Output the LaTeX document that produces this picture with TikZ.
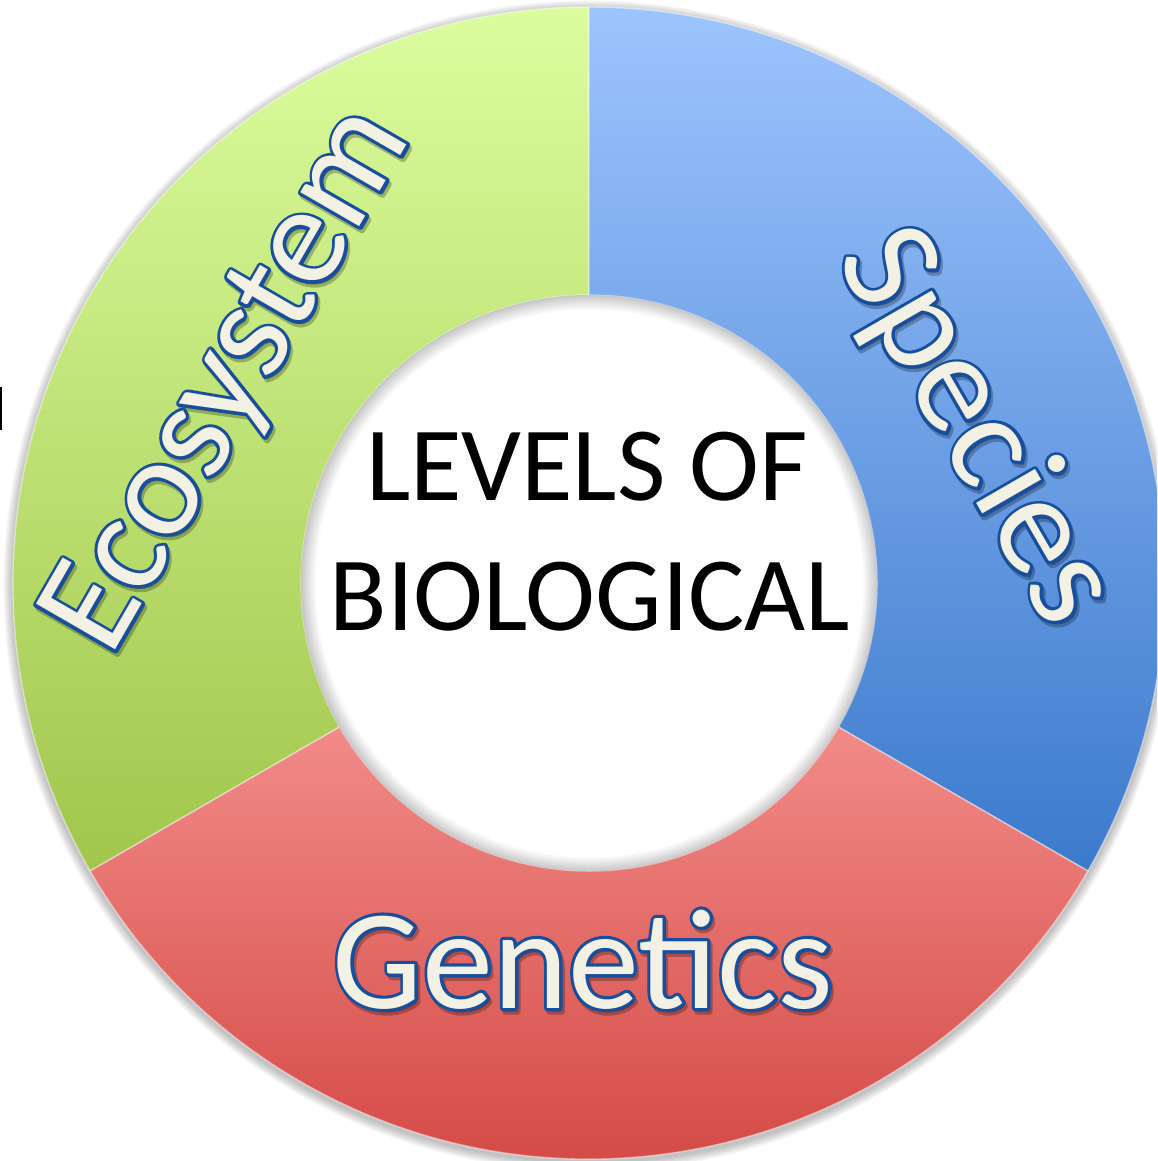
\documentclass[tikz,border=0pt]{standalone}
\usepackage{fontspec}
\setmainfont{Carlito}
\usetikzlibrary{calc}

\definecolor{greentop}{HTML}{DCFD9E}
\definecolor{greenbot}{HTML}{A1C64C}
\definecolor{bluetop}{HTML}{9DC4FD}
\definecolor{bluebot}{HTML}{3C7ACC}
\definecolor{redtop}{HTML}{FBA09D}
\definecolor{redmid}{HTML}{EF8583}
\definecolor{redbot}{HTML}{CF3F3B}
\definecolor{wordcream}{HTML}{F3F0E4}
\definecolor{wordblue}{HTML}{174F9C}

% white centre with a soft rim where the ring shades it
\pgfdeclareradialshading{holeshade}{\pgfpoint{0bp}{0bp}}{%
  color(0bp)=(white); color(23.7bp)=(white); color(25bp)=(black!22); color(50bp)=(black!22)}

\def\Rout{5.76}
\def\Rin{2.88}

% stroked glyphs: filled and outlined in the current colour
\newcommand\fatglyphs[1]{%
  \special{pdf:literal direct 1.8 w 1 j 2 Tr}#1\special{pdf:literal direct 0 Tr}}

% word with a faint offset shadow, dark blue rim and cream face
% #1 shadow shift along the line, #2 shadow raise, #3 the word
\newcommand\rimword[3]{%
  \rlap{\begin{pgfscope}\pgfsetfillopacity{0.25}\pgfsetstrokeopacity{0.25}\color{black}%
    \kern#1\raisebox{#2}{\fatglyphs{#3}}\end{pgfscope}}%
  \rlap{\color{wordblue}\fatglyphs{#3}}%
  #3}

\begin{document}
\begin{tikzpicture}[
  wordfill/.style={font=\fontsize{40.5}{48}\selectfont, inner sep=0pt, anchor=base, text=wordcream},
  title/.style={font=\fontsize{30}{36}\selectfont, inner sep=0pt, anchor=base, text=black},
  segment/.style={shading=axis, draw=white, draw opacity=0.45, line width=0.4pt},
]
\useasboundingbox (0,0) rectangle (11.57,-11.61);
\clip (0,0) rectangle (11.57,-11.61);
\fill[white] (0,0) rectangle (11.57,-11.61);

\coordinate (ctr) at (5.89,-5.83);

% soft drop shadow under the ring
\foreach \k in {1,...,8}
  \fill[black, opacity=0.03] ($(ctr)+(0,-0.03)$) circle ({\Rout+0.012*\k});

% Ecosystem segment (210 to 90 degrees)
\path[segment, top color=greentop, bottom color=greenbot]
  (ctr) ++(210:\Rout) arc[start angle=210, end angle=90, radius=\Rout]
  -- ++(270:\Rout-\Rin) arc[start angle=90, end angle=210, radius=\Rin] -- cycle;

% Species segment (90 to -30 degrees)
\path[segment, top color=bluetop, bottom color=bluebot]
  (ctr) ++(90:\Rout) arc[start angle=90, end angle=-30, radius=\Rout]
  -- ++(150:\Rout-\Rin) arc[start angle=-30, end angle=90, radius=\Rin] -- cycle;

% Genetics segment (-30 to -150 degrees)
\path[segment, top color=redtop, middle color=redmid, bottom color=redbot]
  (ctr) ++(-30:\Rout) arc[start angle=-30, end angle=-150, radius=\Rout]
  -- ++(30:\Rout-\Rin) arc[start angle=-150, end angle=-30, radius=\Rin] -- cycle;

% centre disc
\path[shading=holeshade] (ctr) circle (\Rin);

% centre title
\node[title] (levels) at (5.87,-5.00) {LEVELS OF};
\node[title] (bio) at (5.90,-6.30) {BIOLOGICAL};

% ring labels
\coordinate (ecopos) at (2.61,-3.98);
\coordinate (spepos) at (9.43,-4.46);
\coordinate (genpos) at (5.83,-10.08);
\node[wordfill, rotate=60]  (eco) at (ecopos) {\rimword{-0.57pt}{-1.02pt}{Ecosystem}};
\node[wordfill, rotate=-60] (spe) at (spepos) {\rimword{1.17pt}{0.02pt}{Species}};
\node[wordfill]             (gen) at (genpos) {\rimword{0.6pt}{-1.0pt}{Genetics}};

% small dark mark at the left edge
\fill[black] (0,-3.87) rectangle (0.02,-4.30);
\end{tikzpicture}
\end{document}
